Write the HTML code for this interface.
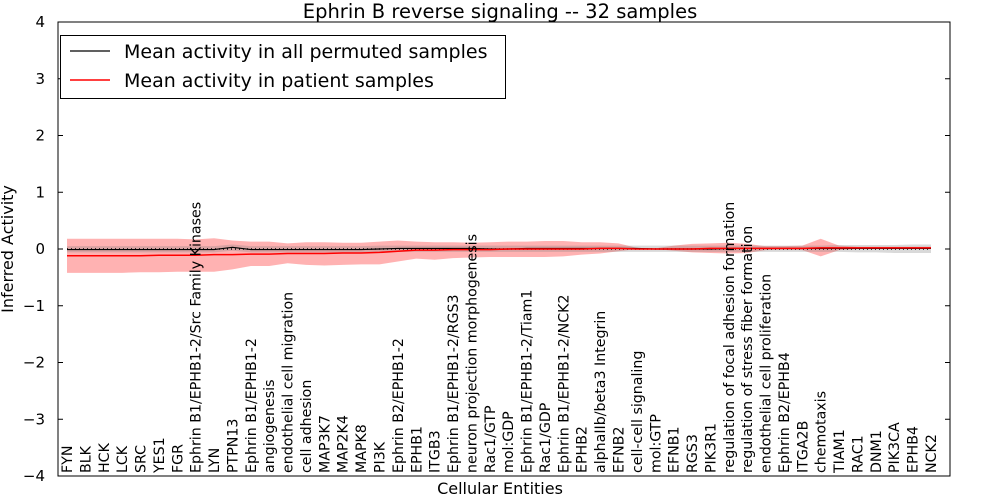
<!DOCTYPE html>
<html><head><meta charset="utf-8"><style>body{margin:0;background:#fff}svg{display:block;font-family:"DejaVu Sans","Liberation Sans",sans-serif}</style></head>
<body>
<svg id="c" width="1000" height="500"></svg>
<script>
const categories=["FYN","BLK","HCK","LCK","SRC","YES1","FGR","Ephrin B1/EPHB1-2/Src Family Kinases","LYN","PTPN13","Ephrin B1/EPHB1-2","angiogenesis","endothelial cell migration","cell adhesion","MAP3K7","MAP2K4","MAPK8","PI3K","Ephrin B2/EPHB1-2","EPHB1","ITGB3","Ephrin B1/EPHB1-2/RGS3","neuron projection morphogenesis","Rac1/GTP","mol:GDP","Ephrin B1/EPHB1-2/Tiam1","Rac1/GDP","Ephrin B1/EPHB1-2/NCK2","EPHB2","alphaIIb/beta3 Integrin","EFNB2","cell-cell signaling","mol:GTP","EFNB1","RGS3","PIK3R1","regulation of focal adhesion formation","regulation of stress fiber formation","endothelial cell proliferation","Ephrin B2/EPHB4","ITGA2B","chemotaxis","TIAM1","RAC1","DNM1","PIK3CA","EPHB4","NCK2"];
const patientMean=[-0.12,-0.12,-0.12,-0.12,-0.12,-0.11,-0.11,-0.11,-0.1,-0.1,-0.09,-0.09,-0.08,-0.08,-0.08,-0.07,-0.07,-0.06,-0.04,-0.02,-0.02,-0.01,-0.01,-0.01,0,0,0,0,0,0.01,0.01,0,0,0,0,0.01,0.01,0.01,0.01,0.01,0.01,0.02,0.02,0.02,0.02,0.02,0.02,0.02];
const patientUpper=[0.18,0.18,0.18,0.18,0.18,0.18,0.18,0.17,0.19,0.15,0.13,0.13,0.1,0.12,0.12,0.11,0.11,0.13,0.15,0.13,0.12,0.12,0.11,0.12,0.13,0.13,0.14,0.14,0.12,0.12,0.1,0.02,0.01,0.06,0.09,0.1,0.11,0.09,0.05,0.05,0.06,0.18,0.06,0.04,0.04,0.04,0.04,0.04];
const patientLower=[-0.42,-0.42,-0.42,-0.42,-0.41,-0.41,-0.4,-0.4,-0.4,-0.36,-0.3,-0.3,-0.25,-0.28,-0.29,-0.28,-0.27,-0.27,-0.22,-0.17,-0.19,-0.16,-0.15,-0.14,-0.14,-0.14,-0.14,-0.13,-0.1,-0.08,-0.04,0,0,-0.03,-0.06,-0.07,-0.08,-0.07,-0.02,-0.01,-0.02,-0.13,-0.02,0,0,0,0,0];
const permMean=[-0.01,-0.01,-0.01,-0.01,-0.01,-0.01,-0.01,-0.01,-0.01,0.03,-0.01,-0.01,-0.01,-0.01,-0.01,-0.01,-0.01,0,0.01,0.01,0.01,0.01,0.01,0,0,0.01,0.01,0.01,0.01,0.01,0.01,0.01,0,0,0,0,0.01,0.01,0.01,0.01,0.01,0.01,0.01,0.01,0.01,0.01,0.01,0.01];
const permUpper=[0.05,0.05,0.05,0.05,0.05,0.05,0.05,0.05,0.05,0.08,0.05,0.05,0.05,0.05,0.05,0.05,0.05,0.06,0.06,0.06,0.06,0.06,0.06,0.06,0.06,0.06,0.06,0.06,0.06,0.06,0.06,0.06,0.06,0.06,0.06,0.06,0.06,0.06,0.06,0.06,0.06,0.06,0.07,0.07,0.07,0.07,0.08,0.08];
const permLower=[-0.06,-0.06,-0.06,-0.06,-0.06,-0.06,-0.06,-0.06,-0.06,-0.03,-0.06,-0.06,-0.06,-0.06,-0.06,-0.06,-0.06,-0.05,-0.05,-0.05,-0.05,-0.05,-0.05,-0.05,-0.05,-0.05,-0.05,-0.05,-0.05,-0.05,-0.05,-0.05,-0.05,-0.05,-0.05,-0.05,-0.05,-0.05,-0.05,-0.05,-0.05,-0.05,-0.05,-0.06,-0.06,-0.07,-0.07,-0.07];
const yTicks=[-4,-3,-2,-1,0,1,2,3,4];

const NS="http://www.w3.org/2000/svg",svg=document.getElementById('c');
const L=58,R=950,T=22,B=476;
const x=i=>67+i*(931-67)/(categories.length-1);
const y=v=>B-(v+4)/8*(B-T);
function el(t,a,p){const e=document.createElementNS(NS,t);for(const k in a)e.setAttribute(k,a[k]);(p||svg).appendChild(e);return e;}
function band(u,l,fill,name){let d='M'+u.map((v,i)=>x(i)+','+y(v)).join('L');for(let i=l.length-1;i>=0;i--)d+='L'+x(i)+','+y(l[i]);const p=el('path',{d:d+'Z',fill:fill});}
function line(a,st,w,name,dash){const p=el('polyline',{points:a.map((v,i)=>x(i)+','+y(v)).join(' '),fill:'none',stroke:st,'stroke-width':w});if(dash)p.setAttribute('stroke-dasharray',dash);}
band(patientUpper,patientLower,'rgba(255,0,0,0.3)','patient-band');
band(permUpper,permLower,'rgba(128,128,128,0.3)','permuted-band');
line(permMean,'#000',1.2,'permuted-mean-line');
line(categories.map(()=>0),'#000',1.5,'zero-dotted-line','1,3');
line(patientMean,'#f00',1.5,'patient-mean-line');
const fr=el('rect',{x:L,y:T,width:R-L,height:B-T,fill:'none',stroke:'#000'});

yTicks.forEach(v=>{const yy=y(v);
 el('line',{x1:L,x2:L+5,y1:yy,y2:yy,stroke:'#000'});el('line',{x1:R-5,x2:R,y1:yy,y2:yy,stroke:'#000'});
 const t=el('text',{x:L-13,y:yy+5,'text-anchor':'end','font-size':15});t.textContent=(v<0?'\u2212':'')+Math.abs(v);
 });
categories.forEach((c,i)=>{const xx=x(i);
 const t=el('text',{x:0,y:0,'font-size':14.2,transform:`translate(${xx+5},473) rotate(-90)`});t.textContent=c;
 });
let t=el('text',{x:500,y:18,'text-anchor':'middle','font-size':19.5});t.textContent='Ephrin B reverse signaling -- 32 samples';

t=el('text',{x:500,y:494,'text-anchor':'middle','font-size':16});t.textContent='Cellular Entities';

t=el('text',{x:0,y:0,'text-anchor':'middle','font-size':16,transform:'translate(13,249) rotate(-90)'});t.textContent='Inferred Activity';

const lg=el('g',{});
el('rect',{x:60.5,y:35.5,width:445,height:63,fill:'#fff',stroke:'#000'},lg);
el('line',{x1:70,x2:110,y1:51,y2:51,stroke:'#000','stroke-width':1.2},lg);
el('line',{x1:70,x2:110,y1:80,y2:80,stroke:'#f00','stroke-width':1.5},lg);
t=el('text',{x:124,y:58,'font-size':19},lg);t.textContent='Mean activity in all permuted samples';

t=el('text',{x:124,y:87,'font-size':19},lg);t.textContent='Mean activity in patient samples';

</script>
</body></html>
